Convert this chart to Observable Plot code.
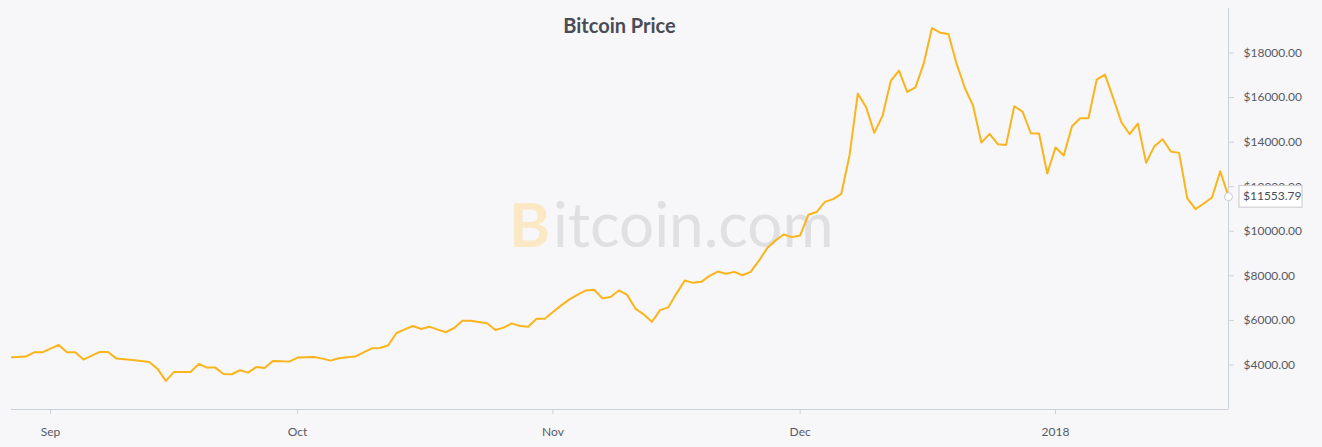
<!DOCTYPE html>
<html><head><meta charset="utf-8">
<script src="https://cdn.jsdelivr.net/npm/d3@7"></script>
<script src="https://cdn.jsdelivr.net/npm/@observablehq/plot@0.6"></script>
<style>
html,body{margin:0;padding:0;background:#f7f7f9;}
#wrap{position:relative;width:1322px;height:447px;background:#f7f7f9;font-family:Lato,sans-serif;}
#title{position:absolute;left:11px;width:1217px;top:13px;text-align:center;font-size:20px;font-weight:700;color:#4a4b55;z-index:2;}
</style></head><body>
<div id="wrap"><div id="title">Bitcoin Price</div></div>
<script>
const dates = [
"2017-08-27","2017-08-28","2017-08-29","2017-08-30","2017-08-31",
"2017-09-01","2017-09-02","2017-09-03","2017-09-04","2017-09-05","2017-09-06","2017-09-07","2017-09-08","2017-09-09","2017-09-10",
"2017-09-11","2017-09-12","2017-09-13","2017-09-14","2017-09-15","2017-09-16","2017-09-17","2017-09-18","2017-09-19","2017-09-20",
"2017-09-21","2017-09-22","2017-09-23","2017-09-24","2017-09-25","2017-09-26","2017-09-27","2017-09-28","2017-09-29","2017-09-30",
"2017-10-01","2017-10-02","2017-10-03","2017-10-04","2017-10-05","2017-10-06","2017-10-07","2017-10-08","2017-10-09","2017-10-10",
"2017-10-11","2017-10-12","2017-10-13","2017-10-14","2017-10-15","2017-10-16","2017-10-17","2017-10-18","2017-10-19","2017-10-20",
"2017-10-21","2017-10-22","2017-10-23","2017-10-24","2017-10-25","2017-10-26","2017-10-27","2017-10-28","2017-10-29","2017-10-30","2017-10-31",
"2017-11-01","2017-11-02","2017-11-03","2017-11-04","2017-11-05","2017-11-06","2017-11-07","2017-11-08","2017-11-09","2017-11-10",
"2017-11-11","2017-11-12","2017-11-13","2017-11-14","2017-11-15","2017-11-16","2017-11-17","2017-11-18","2017-11-19","2017-11-20",
"2017-11-21","2017-11-22","2017-11-23","2017-11-24","2017-11-25","2017-11-26","2017-11-27","2017-11-28","2017-11-29","2017-11-30",
"2017-12-01","2017-12-02","2017-12-03","2017-12-04","2017-12-05","2017-12-06","2017-12-07","2017-12-08","2017-12-09","2017-12-10",
"2017-12-11","2017-12-12","2017-12-13","2017-12-14","2017-12-15","2017-12-16","2017-12-17","2017-12-18","2017-12-19","2017-12-20",
"2017-12-21","2017-12-22","2017-12-23","2017-12-24","2017-12-25","2017-12-26","2017-12-27","2017-12-28","2017-12-29","2017-12-30","2017-12-31",
"2018-01-01","2018-01-02","2018-01-03","2018-01-04","2018-01-05","2018-01-06","2018-01-07","2018-01-08","2018-01-09","2018-01-10",
"2018-01-11","2018-01-12","2018-01-13","2018-01-14","2018-01-15","2018-01-16","2018-01-17","2018-01-18","2018-01-19","2018-01-20",
"2018-01-21","2018-01-22"
];
const prices = [
4340,4359,4374,4568,4568,
4732,4897,4568,4568,4239,4418,4583,4583,4284,4254,
4224,4179,4134,3821,3283,3686,3686,3686,4045,3880,
3880,3597,3582,3761,3656,3910,3865,4179,4164,4149,
4329,4344,4359,4284,4194,4299,4344,4374,4568,4747,
4762,4882,5435,5599,5748,5614,5718,5584,5470,5659,
5987,5987,5928,5868,5569,5674,5868,5748,5718,6077,6077,
6376,6675,6944,7153,7347,7377,6989,7048,7345,7145,
6530,6271,5935,6460,6585,7213,7790,7685,7730,8000,
8192,8094,8177,8028,8177,8680,9245,9589,9858,9738,
9813,10740,10865,11322,11442,11681,13414,16179,15581,14415,
15178,16747,17210,16253,16463,17524,19122,18913,18853,17509,
16433,15626,13982,14370,13907,13877,15611,15370,14400,14386,12593,
13758,13400,14714,15073,15073,16807,17031,15985,14894,14356,
14834,13071,13818,14132,13579,13519,11472,10993,11248,11517,
12697,11553.79
];
const xTickDates = ["2017-09-01","2017-10-01","2017-11-01","2017-12-01","2018-01-01"];
const xTickLabels = ["Sep","Oct","Nov","Dec","2018"];
const yTicks = [4000,6000,8000,10000,12000,14000,16000,18000];
const yDomain = [2000,20000];

const data = dates.map((d,i)=>({date:new Date(d+"T00:00:00Z"), price:prices[i]}));
const last = data[data.length-1];
const xStart = new Date(Date.UTC(2017,7,27,6,24));
const xEnd = last.date;
const axisColor = "#ccd0da";
const labelColor = "#555a66";

const plot = Plot.plot({
  width:1322, height:447,
  marginLeft:11, marginRight:94, marginTop:8, marginBottom:38,
  style:{background:"#f7f7f9", fontFamily:"Lato, sans-serif", fontSize:"12px", overflow:"visible"},
  x:{type:"utc", domain:[xStart, xEnd]},
  y:{domain:yDomain},
  marks:[
    Plot.text(["B"], {frameAnchor:"middle", text:d=>d, dx:-70, dy:18, textAnchor:"end", fontSize:62, fontWeight:700, fill:"#fbe8c4"}),
    Plot.text(["itcoin.com"], {frameAnchor:"middle", text:d=>d, dx:-67, dy:18, textAnchor:"start", fontSize:62, fill:"#e0e0e3"}),
    Plot.ruleY([yDomain[0]], {stroke:axisColor}),
    Plot.ruleX([xEnd], {stroke:axisColor}),
    Plot.axisX({ticks: xTickDates.map(d=>new Date(d+"T00:00:00Z")), tickFormat:(d,i)=>xTickLabels[i], tickSize:5, tickPadding:13, stroke:axisColor, fill:labelColor, label:null}),
    Plot.axisY({anchor:"right", ticks:yTicks, tickFormat:d=>"$"+d.toFixed(2), tickSize:5, tickPadding:10, stroke:axisColor, fill:labelColor, label:null}),
    Plot.line(data, {x:"date", y:"price", stroke:"#fbb41c", strokeWidth:2, clip:true}),
    Plot.dot([last], {x:"date", y:"price", r:4, fill:"white", stroke:"#c8ccd6", strokeWidth:1})
  ]
});
document.getElementById("wrap").prepend(plot);

// current price label placed with the plot's own scales
const ly = plot.scale("y").apply(last.price);
const lx = plot.scale("x").apply(last.date);
const svg = d3.select(plot);
const g = svg.append("g").attr("text-anchor","start");
g.append("rect").attr("x", lx+11).attr("y", ly-10.5).attr("width", 63).attr("height", 21.5)
  .attr("fill","white").attr("stroke","#c8c8cc");
g.append("text").attr("x", lx+15).attr("y", ly).attr("dy","0.35em").attr("text-anchor","start")
  .attr("fill","#474c58").attr("font-size",12).text("$"+last.price.toFixed(2));
</script>
</body></html>
